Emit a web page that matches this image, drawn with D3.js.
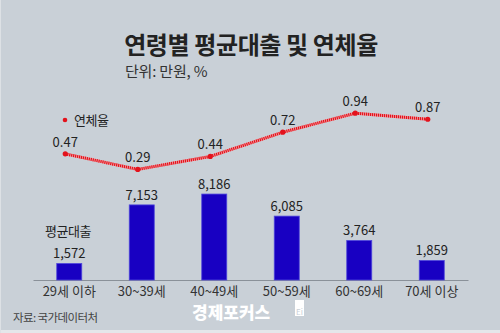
<!DOCTYPE html>
<html><head><meta charset="utf-8">
<script src="https://cdn.jsdelivr.net/npm/d3@7"></script>
<style>
html,body{margin:0;padding:0;background:#c9d0d7;}
svg{display:block;}
text{font-family:"Noto Sans CJK KR","Noto Sans",sans-serif;}
</style></head>
<body>
<script>
const categories = ["29세 이하","30~39세","40~49세","50~59세","60~69세","70세 이상"];
const loans = [1572,7153,8186,6085,3764,1859];
const loanLabels = ["1,572","7,153","8,186","6,085","3,764","1,859"];
const rates = [0.47,0.29,0.44,0.72,0.94,0.87];
const rateLabels = ["0.47","0.29","0.44","0.72","0.94","0.87"];

const W=500,H=333;
const svg=d3.select("body").append("svg").attr("width",W).attr("height",H);
svg.append("rect").attr("width",W).attr("height",H).attr("fill","#c9d0d7");
svg.append("rect").attr("x",0).attr("y",330).attr("width",W).attr("height",3).attr("fill","#e4e7ea");
svg.append("rect").attr("x",0).attr("y",0).attr("width",1).attr("height",H).attr("fill","#dde1e5");

const x=d3.scaleBand().domain(categories).range([33,468]).paddingInner(0.655).paddingOuter(0.3275);
const yBar=d3.scaleLinear().domain([0,10000]).range([280,175]);
const yLine=d3.scaleLinear().domain([0,1]).range([194.5,108]);

// title
svg.append("text").attr("x",251).attr("y",54).attr("text-anchor","middle")
  .attr("font-size",24).attr("font-weight",700).attr("fill","#222").attr("letter-spacing",-0.4)
  .text("연령별 평균대출 및 연체율");
svg.append("text").attr("x",125).attr("y",77).attr("font-size",15).attr("fill","#333").attr("letter-spacing",-0.2)
  .text("단위: 만원, %");

// axis
const ax=svg.append("g").attr("transform","translate(0,280)").call(d3.axisBottom(x).tickSize(0).tickPadding(7));
ax.select(".domain").attr("stroke","#8a9199").attr("stroke-width",1);
ax.selectAll("text").attr("font-size",13).attr("fill","#333").attr("font-family","'Noto Sans CJK KR',sans-serif");

// bars
svg.selectAll("rect.bar").data(loans).join("rect").attr("class","bar")
  .attr("x",(d,i)=>x(categories[i])).attr("width",x.bandwidth())
  .attr("y",d=>yBar(d)).attr("height",d=>yBar(0)-yBar(d))
  .attr("fill","#1800c2").attr("stroke","#4f47dc").attr("stroke-width",0.8);
svg.selectAll("text.bl").data(loans).join("text").attr("class","bl")
  .attr("x",(d,i)=>x(categories[i])+x.bandwidth()/2).attr("y",d=>yBar(d)-5)
  .attr("text-anchor","middle").attr("font-size",13).attr("fill","#222")
  .text((d,i)=>loanLabels[i]);

// line
const lx=i=>x(categories[i])+x.bandwidth()/2-4;
const line=d3.line().x((d,i)=>lx(i)).y(d=>yLine(d));
svg.append("path").datum(rates).attr("d",line).attr("fill","none")
  .attr("stroke","#f0a0a4").attr("stroke-width",3);
svg.append("path").datum(rates).attr("d",line).attr("fill","none")
  .attr("stroke","#e3121c").attr("stroke-width",3).attr("stroke-dasharray","1.2,0.8");
svg.selectAll("circle.pt").data(rates).join("circle").attr("class","pt")
  .attr("cx",(d,i)=>lx(i)).attr("cy",d=>yLine(d)).attr("r",2.6).attr("fill","#e3121c");
svg.selectAll("text.ll").data(rates).join("text").attr("class","ll")
  .attr("x",(d,i)=>lx(i)).attr("y",d=>yLine(d)-7)
  .attr("text-anchor","middle").attr("font-size",13).attr("fill","#222")
  .text((d,i)=>rateLabels[i]);

// legends
svg.append("circle").attr("cx",65).attr("cy",120).attr("r",2.3).attr("fill","#e3121c");
svg.append("text").attr("x",74).attr("y",125).attr("font-size",13).attr("fill","#222").attr("letter-spacing",-0.5).text("연체율");
svg.append("text").attr("x",45).attr("y",236).attr("font-size",13).attr("fill","#222").attr("letter-spacing",-0.5).text("평균대출");

// source
svg.append("text").attr("x",13).attr("y",322).attr("font-size",11.5).attr("fill","#444").attr("letter-spacing",-0.6).text("자료: 국가데이터처");

// watermark
svg.append("text").attr("x",192).attr("y",318.5).attr("font-size",17).attr("font-weight",900).attr("fill","#ffffff").attr("letter-spacing",0).text("경제포커스");
svg.append("rect").attr("x",295).attr("y",300).attr("width",9).attr("height",16).attr("fill","#ffffff");
svg.append("text").attr("x",296).attr("y",315).attr("font-size",8).attr("fill","#c9d0d7").text("Ei");
</script>
</body></html>
